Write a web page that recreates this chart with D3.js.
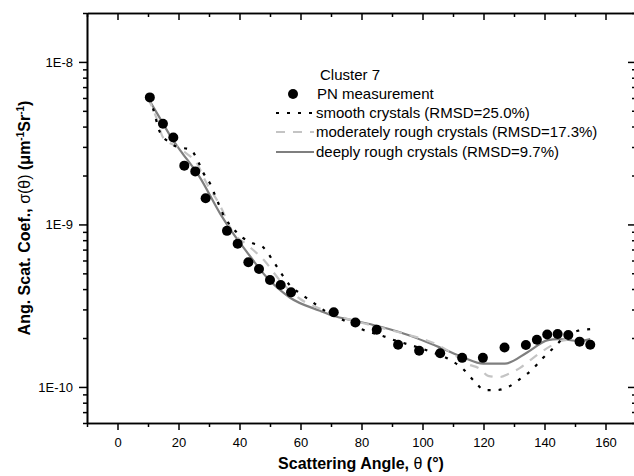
<!DOCTYPE html>
<html>
<head>
<meta charset="utf-8">
<script src="https://cdn.jsdelivr.net/npm/d3@7"></script>
<style>
  body { margin: 0; background: #fff; }
  svg { display: block; font-family: "Liberation Sans", Arial, sans-serif; }
</style>
</head>
<body>
<svg id="chart" width="634" height="476"></svg>
<script>
// measured points (PN measurement)
var measAngle = [10.6, 14.9, 18.3, 21.9, 25.5, 28.9, 35.9, 39.4, 42.9, 46.4, 50.0, 53.5, 56.9,
                 70.9, 78.0, 85.0, 92.0, 98.9, 105.8, 113.0, 119.8, 126.9, 133.9, 137.5, 140.9,
                 144.3, 147.8, 151.5, 155.0];
var measValue = [6.05e-9, 4.16e-9, 3.43e-9, 2.30e-9, 2.12e-9, 1.45e-9, 9.13e-10, 7.6e-10, 5.85e-10,
                 5.32e-10, 4.55e-10, 4.24e-10, 3.82e-10, 2.88e-10, 2.49e-10, 2.25e-10, 1.82e-10,
                 1.67e-10, 1.61e-10, 1.51e-10, 1.51e-10, 1.75e-10, 1.81e-10, 1.95e-10, 2.10e-10,
                 2.12e-10, 2.09e-10, 1.90e-10, 1.82e-10];

// smooth crystals model
var smoothAngle = [10.5, 11.6, 13.9, 17.0, 19.8, 23.8, 26.4, 28.0, 30.3, 32.0, 35.2, 37.9, 41.0,
                   44.0, 47.5, 51.3, 53.8, 56.6, 60.2, 64.1, 68.0, 75.6, 78.9, 83.3, 87.0, 91.5,
                   94.8, 101.8, 109.6, 113.3, 116.9, 120.5, 124.3, 128.1, 132.0, 135.8, 139.4,
                   143.4, 147.3, 151.1, 155.0];
var smoothValue = [6.0e-9, 5.2e-9, 3.7e-9, 3.2e-9, 2.99e-9, 2.9e-9, 2.45e-9, 2.1e-9, 1.79e-9, 1.51e-9,
                   1.1e-9, 9.45e-10, 8.3e-10, 7.7e-10, 7.3e-10, 5.85e-10, 4.96e-10, 4.2e-10, 3.73e-10,
                   3.31e-10, 2.94e-10, 2.49e-10, 2.31e-10, 2.16e-10, 2.06e-10, 1.92e-10, 1.84e-10,
                   1.67e-10, 1.45e-10, 1.29e-10, 1.09e-10, 9.55e-11, 9.56e-11, 1.0e-10, 1.12e-10,
                   1.27e-10, 1.5e-10, 1.77e-10, 2.09e-10, 2.22e-10, 2.27e-10];

// moderately rough crystals model
var moderateAngle = [10.0, 13.0, 14.9, 20.5, 22.1, 26.4, 28.7, 33.6, 37.9, 42.5, 48.4, 53.3, 59.8,
                     67.0, 74.0, 85.0, 95.0, 104.0, 110.0, 114.5, 118.9, 121.5, 125.3, 128.1,
                     132.0, 135.9, 142.1, 145.1, 148.0, 151.6, 155.0];
var moderateValue = [6.0e-9, 4.4e-9, 3.44e-9, 2.94e-9, 2.78e-9, 2.31e-9, 1.87e-9, 1.31e-9, 8.9e-10,
                     7.5e-10, 5.91e-10, 4.51e-10, 3.49e-10, 3.0e-10, 2.67e-10, 2.35e-10, 2.1e-10,
                     1.85e-10, 1.6e-10, 1.39e-10, 1.29e-10, 1.17e-10, 1.15e-10, 1.2e-10, 1.31e-10,
                     1.49e-10, 1.79e-10, 1.91e-10, 1.95e-10, 1.93e-10, 1.96e-10];

// deeply rough crystals model
var deepAngle = [10.0, 13.9, 18.2, 20.5, 27.0, 33.6, 37.9, 42.8, 49.0, 56.6, 66.4, 70.7, 78.0, 85.0,
                 92.6, 105.7, 113.3, 119.9, 127.0, 134.3, 141.1, 144.4, 151.6, 155.0];
var deepValue = [6.0e-9, 4.51e-9, 3.3e-9, 2.87e-9, 1.95e-9, 1.17e-9, 8.8e-10, 6.62e-10, 4.71e-10,
                 3.54e-10, 2.94e-10, 2.74e-10, 2.55e-10, 2.38e-10, 2.17e-10, 1.75e-10, 1.52e-10,
                 1.39e-10, 1.39e-10, 1.63e-10, 1.94e-10, 1.97e-10, 1.92e-10, 1.97e-10];

var xMajorTicks = [0, 20, 40, 60, 80, 100, 120, 140, 160];
var xMinorTicks = [-10, 10, 30, 50, 70, 90, 110, 130, 150, 170];
var yMajorTicks = [1e-10, 1e-9, 1e-8];
var yTickLabels = ["1E-10", "1E-9", "1E-8"];

var legendLabels = ["PN measurement", "smooth crystals (RMSD=25.0%)",
                    "moderately rough crystals (RMSD=17.3%)", "deeply rough crystals (RMSD=9.7%)"];

var svg = d3.select("#chart");
var plot = {left: 87, right: 636, top: 13, bottom: 423};

var x = d3.scaleLinear().domain([-10, 170]).range([plot.left, plot.right]);
var y = d3.scaleLog().domain([6e-11, 2e-8]).range([plot.bottom, plot.top]);

// minor log ticks 2..9 in every decade inside the domain
var yMinorTicks = [];
[-11, -10, -9, -8].forEach(function(e) {
    for (var m = 2; m <= 9; m++) {
        var v = m * Math.pow(10, e);
        if (v >= 6e-11 && v <= 2e-8) yMinorTicks.push(v);
    }
});

function styleAxis(g) {
    g.select(".domain").attr("stroke", "#000").attr("stroke-width", 1.6);
    g.selectAll(".tick line").attr("stroke", "#000").attr("stroke-width", 1.5);
    g.selectAll(".tick text").attr("fill", "#000").style("font-size", "13px")
        .style("font-family", "'Liberation Sans', Arial, sans-serif");
}

//AXES

// bottom: ticks out, labelled
var bottomMajor = svg.append("g").attr("transform", "translate(0," + plot.bottom + ")")
    .call(d3.axisBottom(x).tickValues(xMajorTicks).tickSize(7).tickSizeOuter(0).tickPadding(8));
styleAxis(bottomMajor);
var bottomMinor = svg.append("g").attr("transform", "translate(0," + plot.bottom + ")")
    .call(d3.axisBottom(x).tickValues(xMinorTicks).tickSize(4).tickSizeOuter(0).tickFormat(""));
styleAxis(bottomMinor);

// top: same ticks pointing into the plot, no labels
var topMajor = svg.append("g").attr("transform", "translate(0," + plot.top + ")")
    .call(d3.axisBottom(x).tickValues(xMajorTicks).tickSize(7).tickSizeOuter(0).tickFormat(""));
styleAxis(topMajor);
var topMinor = svg.append("g").attr("transform", "translate(0," + plot.top + ")")
    .call(d3.axisBottom(x).tickValues(xMinorTicks).tickSize(4).tickSizeOuter(0).tickFormat(""));
styleAxis(topMinor);

// left: log axis with labels
var leftMajor = svg.append("g").attr("transform", "translate(" + plot.left + ",0)")
    .call(d3.axisLeft(y).tickValues(yMajorTicks).tickSize(8).tickSizeOuter(0).tickPadding(6)
        .tickFormat(function(d, i) { return yTickLabels[i]; }));
styleAxis(leftMajor);
var leftMinor = svg.append("g").attr("transform", "translate(" + plot.left + ",0)")
    .call(d3.axisLeft(y).tickValues(yMinorTicks).tickSize(4).tickSizeOuter(0).tickFormat(""));
styleAxis(leftMinor);

// right: mirror of the left, sits just past the window edge
var rightMajor = svg.append("g").attr("transform", "translate(" + plot.right + ",0)")
    .call(d3.axisLeft(y).tickValues(yMajorTicks).tickSize(8).tickSizeOuter(0).tickFormat(""));
styleAxis(rightMajor);
var rightMinor = svg.append("g").attr("transform", "translate(" + plot.right + ",0)")
    .call(d3.axisLeft(y).tickValues(yMinorTicks).tickSize(4).tickSizeOuter(0).tickFormat(""));
styleAxis(rightMinor);

//CURVES

function toPoints(ang, val) {
    return ang.map(function(a, i) { return {a: a, v: val[i]}; });
}

var line = d3.line()
    .x(function(d) { return x(d.a); })
    .y(function(d) { return y(d.v); })
    .curve(d3.curveMonotoneX);

svg.append("path").datum(toPoints(deepAngle, deepValue))
    .attr("d", line).attr("fill", "none")
    .attr("stroke", "#7f7f7f").attr("stroke-width", 2.2);

svg.append("path").datum(toPoints(moderateAngle, moderateValue))
    .attr("d", line).attr("fill", "none")
    .attr("stroke", "#c4c4c4").attr("stroke-width", 2.2)
    .attr("stroke-dasharray", "9,8");

svg.append("path").datum(toPoints(smoothAngle, smoothValue))
    .attr("d", line).attr("fill", "none")
    .attr("stroke", "#000").attr("stroke-width", 2.2)
    .attr("stroke-dasharray", "3,8");

svg.append("g").selectAll("circle")
    .data(toPoints(measAngle, measValue))
    .enter().append("circle")
    .attr("cx", function(d) { return x(d.a); })
    .attr("cy", function(d) { return y(d.v); })
    .attr("r", 5)
    .attr("fill", "#000");

//LEGEND

var legend = svg.append("g").style("font-size", "15px").attr("fill", "#000");
legend.append("text").attr("x", 320).attr("y", 80).text("Cluster 7");

var rowY = [94, 113, 132, 152];
legend.append("circle").attr("cx", 293).attr("cy", rowY[0]).attr("r", 5).attr("fill", "#000");
legend.append("line").attr("x1", 276).attr("x2", 314).attr("y1", rowY[1]).attr("y2", rowY[1])
    .attr("stroke", "#000").attr("stroke-width", 2.2).attr("stroke-dasharray", "3,8");
legend.append("line").attr("x1", 276).attr("x2", 314).attr("y1", rowY[2]).attr("y2", rowY[2])
    .attr("stroke", "#c4c4c4").attr("stroke-width", 2.2).attr("stroke-dasharray", "9,8");
legend.append("line").attr("x1", 276).attr("x2", 314).attr("y1", rowY[3]).attr("y2", rowY[3])
    .attr("stroke", "#7f7f7f").attr("stroke-width", 2.2);

legend.selectAll("text.item")
    .data(legendLabels)
    .enter().append("text")
    .attr("class", "item")
    .attr("x", function(d, i) { return i === 0 ? 317 : 316; })
    .attr("y", function(d, i) { return rowY[i] + 5; })
    .text(function(d) { return d; });

//AXIS TITLES

var xTitle = svg.append("text")
    .attr("x", 361).attr("y", 469)
    .attr("text-anchor", "middle")
    .style("font-size", "16px").style("font-weight", "bold");
xTitle.append("tspan").text("Scattering Angle, ");
xTitle.append("tspan").style("font-weight", "normal").text("θ");
xTitle.append("tspan").text(" (°)");

var yTitle = svg.append("text")
    .attr("transform", "translate(30,218) rotate(-90)")
    .attr("text-anchor", "middle")
    .style("font-size", "16px").style("font-weight", "bold");
yTitle.append("tspan").text("Ang. Scat. Coef., ");
yTitle.append("tspan").style("font-weight", "normal").text("σ(θ)");
yTitle.append("tspan").text(" (μm");
yTitle.append("tspan").attr("dy", -6).style("font-size", "10px").text("-1");
yTitle.append("tspan").attr("dy", 6).text("Sr");
yTitle.append("tspan").attr("dy", -6).style("font-size", "10px").text("-1");
yTitle.append("tspan").attr("dy", 6).text(")");
</script>
</body>
</html>
